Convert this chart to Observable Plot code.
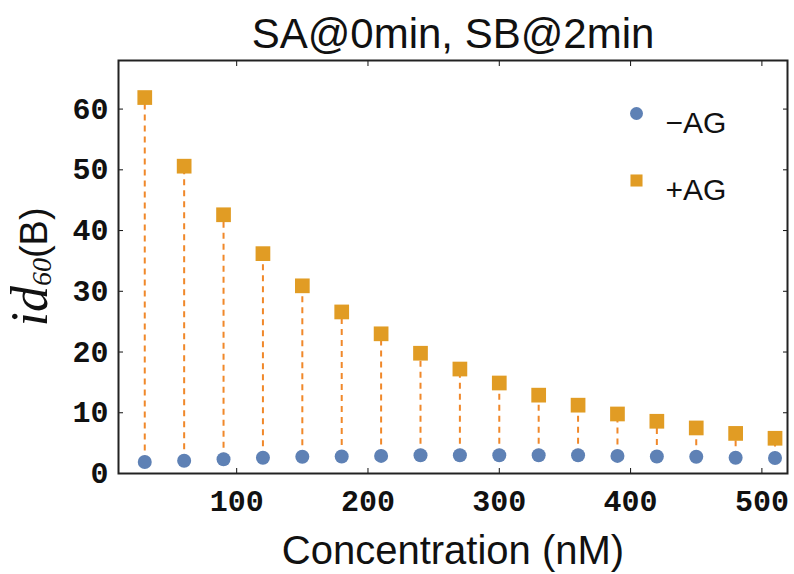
<!DOCTYPE html>
<html><head><meta charset="utf-8">
<script src="https://cdn.jsdelivr.net/npm/d3@7"></script>
<script src="https://cdn.jsdelivr.net/npm/@observablehq/plot@0.6"></script>
<style>body{margin:0;background:#fff}</style>
</head><body><div id="chart"></div>
<script>
const title = "SA@0min, SB@2min";
const xLabel = "Concentration (nM)";
const seriesNames = ["\u2212AG", "+AG"];
const concentration = [30, 60, 90, 120, 150, 180, 210, 240, 270, 300, 330, 360, 390, 420, 450, 480, 510];
const minusAG = [1.9, 2.1, 2.35, 2.6, 2.75, 2.8, 2.9, 3.0, 3.0, 3.0, 3.0, 3.0, 2.9, 2.8, 2.75, 2.6, 2.55];
const plusAG = [61.9, 50.6, 42.6, 36.2, 30.9, 26.6, 23.0, 19.8, 17.2, 14.9, 12.9, 11.25, 9.8, 8.6, 7.5, 6.6, 5.8];
const xTicks = [100, 200, 300, 400, 500];
const yTicks = [0, 10, 20, 30, 40, 50, 60];

const rows = concentration.map((c, i) => ({c, minus: minusAG[i], plus: plusAG[i]}));
const blue = "#5E81B5", gold = "#E19C24", dash = "#F0882A";
const tickFont = {fontSize: 30, fontFamily: "Liberation Mono", fontWeight: "bold"};

const plot = Plot.plot({
  width: 794, height: 574,
  marginLeft: 118, marginRight: 7, marginTop: 60, marginBottom: 101,
  style: {fontFamily: "Liberation Sans", background: "#fff", color: "#111"},
  x: {domain: [10, 519.5]},
  y: {domain: [0, 68]},
  marks: [
    Plot.ruleX(rows, {x: "c", y1: "minus", y2: "plus", stroke: dash, strokeWidth: 2, strokeDasharray: "6,5"}),
    Plot.dot(rows, {x: "c", y: "minus", r: 7, fill: blue}),
    Plot.dot(rows, {x: "c", y: "plus", symbol: "square", r: 8.3, fill: gold}),
    Plot.axisX(xTicks, {anchor: "bottom", tickSize: 0, tickPadding: 16, label: null, ...tickFont}),
    Plot.axisX(xTicks, {anchor: "bottom", tickSize: -5, tickFormat: () => "", label: null}),
    Plot.axisX(xTicks, {anchor: "top", tickSize: -5, tickFormat: () => "", label: null}),
    Plot.axisY(yTicks, {anchor: "left", tickSize: 0, tickPadding: 10, label: null, ...tickFont}),
    Plot.axisY(yTicks, {anchor: "left", tickSize: -5, tickFormat: () => "", label: null}),
    Plot.axisY(yTicks, {anchor: "right", tickSize: -5, tickFormat: () => "", label: null}),
    Plot.frame({stroke: "#222", strokeWidth: 2}),
    Plot.dot([0], {frameAnchor: "top-right", dx: -151, dy: 53, r: 6.5, fill: blue}),
    Plot.dot([0], {frameAnchor: "top-right", dx: -151, dy: 120, symbol: "square", r: 6.8, fill: gold}),
    Plot.text([seriesNames[0]], {frameAnchor: "top-right", dx: -122, dy: 51, textAnchor: "start", fontSize: 30, fill: "#111"}),
    Plot.text([seriesNames[1]], {frameAnchor: "top-right", dx: -122, dy: 118, textAnchor: "start", fontSize: 30, fill: "#111"}),
    Plot.text([title], {frameAnchor: "top", dy: -13, lineAnchor: "bottom", fontSize: 42, fill: "#111"}),
    Plot.text([xLabel], {frameAnchor: "bottom", dy: 90, lineAnchor: "bottom", fontSize: 40, fill: "#111"})
  ]
});

const svg = d3.select(plot);
const t = svg.append("text")
  .attr("transform", "translate(47,267) rotate(-90)")
  .attr("text-anchor", "middle")
  .attr("fill", "#111");
t.append("tspan").attr("font-family", "Liberation Serif").attr("font-style", "italic").attr("font-size", 52).text("id");
t.append("tspan").attr("font-family", "Liberation Serif").attr("font-style", "italic").attr("font-size", 28).attr("dy", 4).text("60");
t.append("tspan").attr("font-family", "Liberation Sans").attr("font-size", 38).attr("dy", -4).text("(B)");

document.getElementById("chart").appendChild(plot);
</script>
</body></html>
